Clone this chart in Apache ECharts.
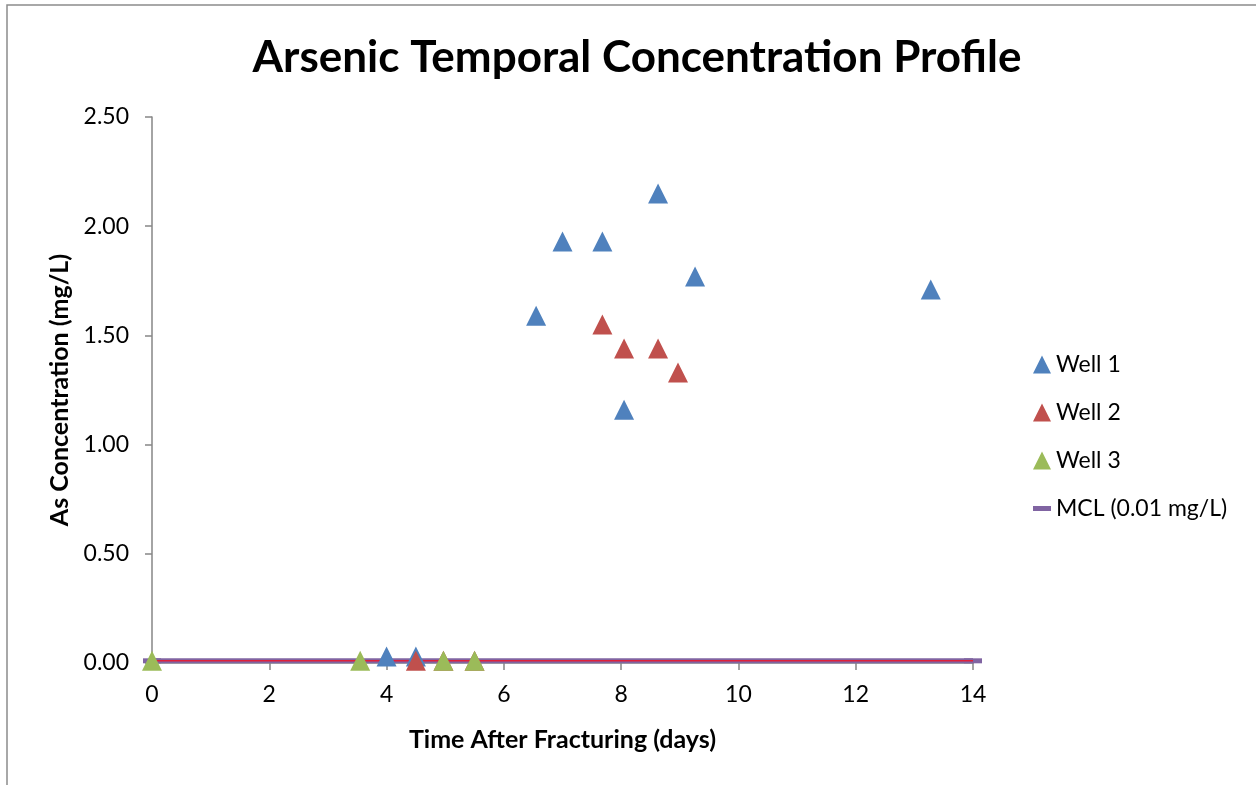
<!DOCTYPE html>
<html>
<head>
<meta charset="utf-8">
<script src="https://cdn.jsdelivr.net/npm/echarts@6/dist/echarts.min.js"></script>
<style>
  html, body { margin: 0; padding: 0; background: #fff; }
  #chart { width: 1256px; height: 785px; }
</style>
</head>
<body>
<div id="chart"></div>
<script>
const well1X = [4.0, 4.5, 6.55, 7.0, 7.68, 8.05, 8.63, 9.26, 13.28];
const well1Y = [0.03, 0.03, 1.59, 1.93, 1.93, 1.16, 2.15, 1.77, 1.71];
const well2X = [4.5, 4.97, 5.5, 7.68, 8.05, 8.63, 8.97];
const well2Y = [0.01, 0.01, 0.01, 1.55, 1.44, 1.44, 1.33];
const well3X = [0, 3.55, 4.97, 5.5];
const well3Y = [0.01, 0.01, 0.01, 0.01];
const mclX = [0, 14];
const mclY = [0.01, 0.01];

const pairs = (xs, ys) => xs.map((x, i) => [x, ys[i]]);
const font = 'Lato, "Open Sans", sans-serif';

const drawChart = (domElement) => {
  const chart = echarts.init(domElement);
  const tri = (name, xs, ys, color, z) => ({
    name,
    type: 'scatter',
    symbol: 'triangle',
    symbolSize: 20,
    itemStyle: { color, opacity: 1 },
    data: pairs(xs, ys),
    z,
  });
  const option = {
    animation: false,
    textStyle: { fontFamily: font },
    graphic: [{
      type: 'rect',
      shape: { x: 7, y: 5, width: 1400, height: 1000 },
      style: { fill: 'none', stroke: '#8c8c8c', lineWidth: 1.5 },
    }],
    title: {
      text: 'Arsenic Temporal Concentration Profile',
      left: 632,
      textAlign: 'center',
      top: 31,
      textStyle: { fontSize: 44, fontWeight: 'bold', color: '#000', fontFamily: font },
    },
    legend: {
      orient: 'vertical',
      left: 1028,
      top: 348,
      itemGap: 25,
      itemWidth: 18,
      itemHeight: 18,
      textStyle: { fontSize: 23, color: '#000', fontFamily: font },
      data: [
        'Well 1', 'Well 2', 'Well 3',
        { name: 'MCL (0.01 mg/L)', icon: 'path://M0,0h18v5h-18z', itemStyle: { color: '#8064A2' } },
      ],
    },
    grid: { left: 152, right: 283, top: 117, bottom: 122 },
    xAxis: {
      type: 'value',
      min: 0,
      max: 14,
      interval: 2,
      name: 'Time After Fracturing (days)',
      nameLocation: 'middle',
      nameGap: 64,
      nameTextStyle: { fontSize: 25, fontWeight: 'bold', color: '#000', fontFamily: font },
      axisLine: { lineStyle: { color: '#868686', width: 1.5 } },
      axisTick: { show: true, length: 7, lineStyle: { color: '#868686', width: 1.5 } },
      axisLabel: { fontSize: 23, color: '#000', margin: 20 },
      splitLine: { show: false },
    },
    yAxis: {
      type: 'value',
      min: 0,
      max: 2.5,
      interval: 0.5,
      name: 'As Concentration (mg/L)',
      nameLocation: 'middle',
      nameGap: 80,
      nameTextStyle: { fontSize: 25, fontWeight: 'bold', color: '#000', fontFamily: font },
      axisLine: { show: true, lineStyle: { color: '#868686', width: 1.5 } },
      axisTick: { show: true, inside: false, length: 7, lineStyle: { color: '#868686', width: 1.5 } },
      axisLabel: { fontSize: 23, color: '#000', margin: 23, formatter: (v) => v.toFixed(2) },
      splitLine: { show: false },
    },
    series: [
      {
        name: 'MCL (0.01 mg/L)',
        type: 'line',
        symbol: 'rect',
        symbolSize: [18, 5],
        clip: false,
        itemStyle: { color: '#8064A2' },
        lineStyle: { color: '#8064A2', width: 5 },
        data: pairs(mclX, mclY),
        z: 1,
      },
      {
        name: 'MCL trace',
        type: 'line',
        symbol: 'none',
        lineStyle: { color: '#e0203a', width: 1.5 },
        data: pairs(mclX, mclY),
        z: 2,
      },
      tri('Well 1', well1X, well1Y, '#4F81BD', 3),
      tri('Well 2', well2X, well2Y, '#C0504D', 3),
      tri('Well 3', well3X, well3Y, '#9BBB59', 4),
    ],
  };
  chart.setOption(option);
};

drawChart(document.querySelector('#chart'));
</script>
</body>
</html>
